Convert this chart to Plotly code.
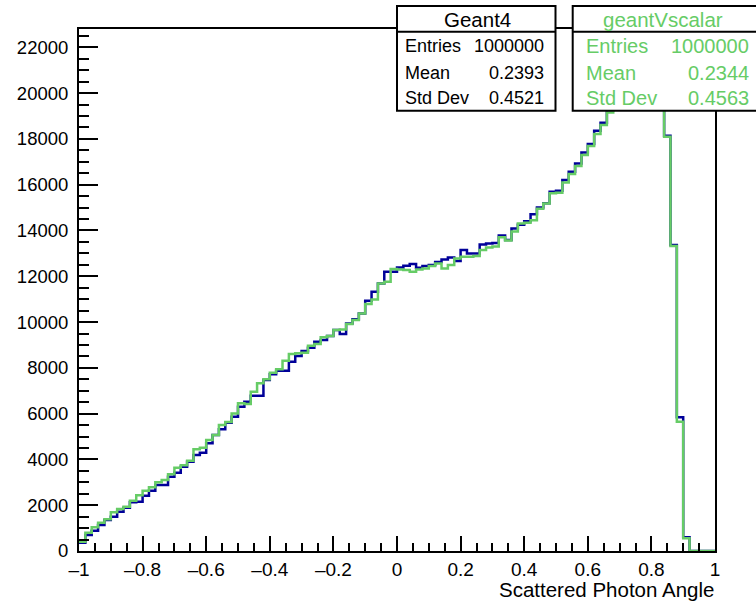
import plotly.graph_objects as go

# ---- data ----
bin_lo = -1.0
bin_hi = 1.0
n_bins = 100

geant4_counts = [
    360, 699, 888, 1135, 1354, 1499, 1717, 1892, 2125, 2155,
    2417, 2635, 2882, 2882, 3246, 3421, 3683, 3901, 4192, 4294,
    4702, 5066, 5313, 5604, 5866, 6303, 6522, 6784, 6784, 7468,
    7716, 7875, 7875, 8267, 8516, 8734, 8880, 9142, 9214, 9389,
    9651, 9476, 9942, 10117, 10379, 10932, 11325, 11689, 12198, 12198,
    12388, 12460, 12533, 12373, 12446, 12489, 12620, 12737, 12824, 12664,
    13144, 12999, 12999, 13392, 13435, 13450, 13780, 13581, 14090, 14250,
    14400, 14710, 15000, 15190, 15692, 15735, 16200, 16566, 16930, 17410,
    17774, 18356, 18705, 19250, 19800, 20300, 20800, 21200, 21500, 21700,
    21600, 20800, 18140, 13364, 5838, 597, 0, 0, 0, 0,
]

vscalar_counts = [
    408, 800, 1033, 1237, 1383, 1688, 1834, 1936, 2198, 2431,
    2635, 2781, 2999, 3100, 3348, 3639, 3742, 3945, 4440, 4512,
    4847, 5066, 5502, 5633, 6011, 6449, 6420, 6957, 7323, 7498,
    7786, 7935, 8311, 8603, 8632, 8661, 8967, 9040, 9331, 9389,
    9651, 9680, 9913, 10088, 10379, 10786, 10990, 11689, 11762, 12315,
    12300, 12271, 12198, 12300, 12344, 12446, 12562, 12344, 12489, 12780,
    12853, 12853, 12882, 13144, 13261, 13300, 13700, 13560, 13950, 14310,
    14340, 14450, 14950, 15180, 15630, 15650, 16100, 16463, 16813, 17293,
    17686, 18211, 18603, 19150, 19700, 20200, 20700, 21100, 21400, 21600,
    21500, 20700, 18093, 13320, 5647, 553, 0, 0, 0, 0,
]

x_tick_vals = [-1, -0.8, -0.6, -0.4, -0.2, 0, 0.2, 0.4, 0.6, 0.8, 1]
x_tick_text = ["\u20131", "\u20130.8", "\u20130.6", "\u20130.4", "\u20130.2", "0",
               "0.2", "0.4", "0.6", "0.8", "1"]
y_tick_vals = [0, 2000, 4000, 6000, 8000, 10000, 12000, 14000, 16000, 18000, 20000, 22000]
y_tick_text = [str(v) for v in y_tick_vals]

x_title = "Scattered Photon Angle"
stats = [
    {"name": "Geant4", "entries": "1000000", "mean": "0.2393", "std": "0.4521"},
    {"name": "geantVscalar", "entries": "1000000", "mean": "0.2344", "std": "0.4563"},
]

BLUE = "#000099"
GREEN = "#66CC66"
FONT = "Liberation Sans, Arial, Helvetica, sans-serif"

W, H = 756, 601
L, R, T, B = 79, 715, 29, 551


def px(x):
    return (x - L) / (R - L)


def py(y):
    return (B - y) / (B - T)


width = (bin_hi - bin_lo) / n_bins
edges = [bin_lo + i * width for i in range(n_bins + 1)]


def step(counts):
    return edges, list(counts) + [counts[-1]]


fig = go.Figure()
for counts, col, name in [(geant4_counts, BLUE, "Geant4"), (vscalar_counts, GREEN, "geantVscalar")]:
    xs, ys = step(counts)
    fig.add_trace(go.Scatter(x=xs, y=ys, mode="lines", line=dict(shape="hv", color=col, width=2.5),
                             name=name, showlegend=False, hoverinfo="skip"))

fig.update_layout(
    width=W, height=H,
    margin=dict(l=L, r=W - R, t=T, b=H - B, pad=0),
    paper_bgcolor="white", plot_bgcolor="white",
    font=dict(family=FONT, color="black", size=18),
    xaxis=dict(range=[bin_lo, bin_hi], tickvals=x_tick_vals, ticktext=x_tick_text,
               ticks="inside", ticklen=15, tickwidth=2, tickcolor="black",
               minor=dict(dtick=0.05, tick0=-1, ticks="inside", ticklen=8, tickwidth=2, tickcolor="black", showgrid=False),
               showline=True, linecolor="black", linewidth=2, mirror=True,
               showgrid=False, zeroline=False, tickfont=dict(size=19), ticklabelstandoff=0),
    yaxis=dict(range=[0, 22800], tickvals=y_tick_vals, ticktext=y_tick_text,
               ticks="inside", ticklen=19, tickwidth=2, tickcolor="black",
               minor=dict(dtick=500, tick0=0, ticks="inside", ticklen=10, tickwidth=2, tickcolor="black", showgrid=False),
               showline=True, linecolor="black", linewidth=2, mirror=True,
               showgrid=False, zeroline=False, tickfont=dict(size=18.5), ticklabelstandoff=5),
)

fig.add_annotation(text=x_title, xref="paper", yref="paper", x=px(716), y=py(589.5),
                   xanchor="right", yanchor="middle", showarrow=False, font=dict(size=20.5))

# stat boxes
boxes = [
    dict(x0=397, x1=555.5, color="black", hsize=20.5, rsize=18, lab_x=403, val_x=546, head_x=477),
    dict(x0=572.7, x1=770, color=GREEN, hsize=20.5, rsize=20, lab_x=584, val_x=751, head_x=663),
]
for bx, st in zip(boxes, stats):
    fig.add_shape(type="rect", xref="paper", yref="paper", x0=px(bx["x0"]), x1=px(bx["x1"]),
                  y0=py(110.7), y1=py(6), fillcolor="white", line=dict(color="black", width=2), layer="above")
    fig.add_shape(type="line", xref="paper", yref="paper", x0=px(bx["x0"]), x1=px(bx["x1"]),
                  y0=py(31.7), y1=py(31.7), line=dict(color="black", width=2), layer="above")
    fig.add_annotation(text=st["name"], xref="paper", yref="paper", x=px(bx["head_x"]), y=py(19.5),
                       xanchor="center", yanchor="middle", showarrow=False,
                       font=dict(size=bx["hsize"], color=bx["color"]))
    rows = [("Entries", st["entries"], 46.5), ("Mean", st["mean"], 72.5), ("Std Dev", st["std"], 97.5)]
    for lab, val, yy in rows:
        fig.add_annotation(text=lab, xref="paper", yref="paper", x=px(bx["lab_x"]), y=py(yy),
                           xanchor="left", yanchor="middle", showarrow=False,
                           font=dict(size=bx["rsize"], color=bx["color"]))
        fig.add_annotation(text=val, xref="paper", yref="paper", x=px(bx["val_x"]), y=py(yy),
                           xanchor="right", yanchor="middle", showarrow=False,
                           font=dict(size=bx["rsize"], color=bx["color"]))

fig.write_html("out.html")
